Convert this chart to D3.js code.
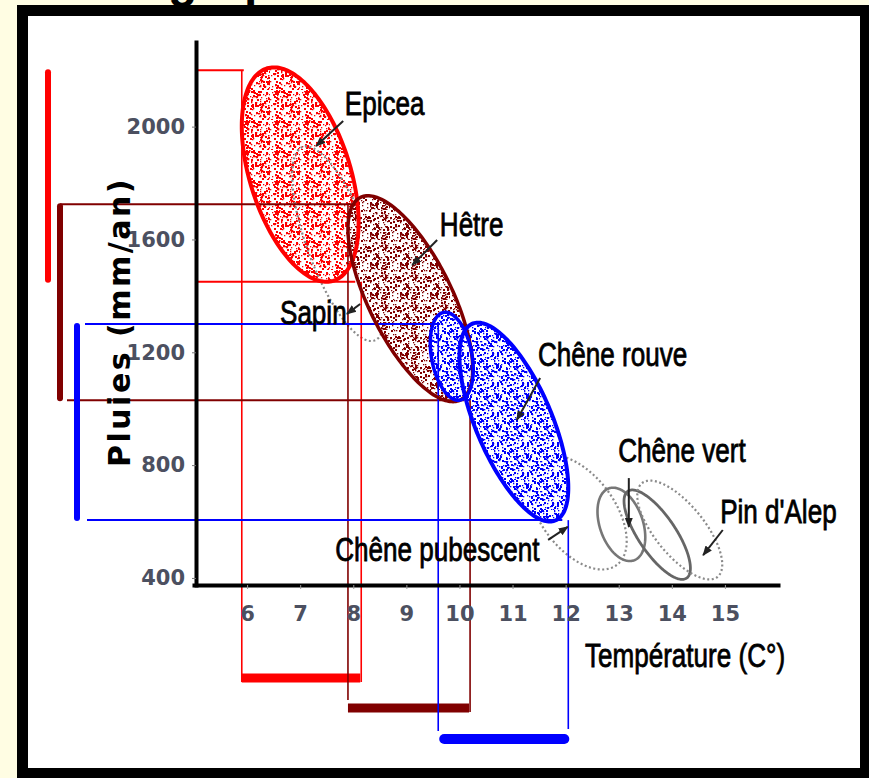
<!DOCTYPE html>
<html><head><meta charset="utf-8">
<script src="https://cdn.jsdelivr.net/npm/d3@7"></script>
<style>body{margin:0;background:#FFFDE3;} svg{display:block}</style>
</head><body>
<svg id="c" width="869" height="778"></svg>
<script>
// ---------------- DATA ----------------
// climatic ranges of the three highlighted species (reference lines & bars)
const species  = ["Epicea", "Hêtre", "Chêne rouve"];
const tempMin  = [5.9, 7.9, 9.6];
const tempMax  = [8.15, 10.2, 12.05];
const rainMin  = [1450, 1030, 605];
const rainMax  = [2200, 1725, 1300];

// ellipses (temperature / rainfall envelopes) of all species
const shapeNames = ["Epicea", "Sapin", "Hêtre", "Chêne pubescent", "Chêne rouve", "Chêne rouve", "Chêne vert", "Chêne vert", "Pin d'Alep"];
const shapeTMin  = [5.9, 6.85, 7.9, 11.3, 10.0, 9.45, 12.6, 13.1, 13.35];
const shapeTMax  = [8.1, 8.6, 10.25, 13.15, 12.05, 10.26, 13.5, 14.35, 14.95];
const shapeRMin  = [1450, 1240, 1025, 430, 600, 1030, 460, 395, 395];
const shapeRMax  = [2210, 1930, 1755, 835, 1305, 1342, 720, 712, 745];
const shapeCorr  = [0.45, 0.7, 0.68, 0.5, 0.66, 0.3, 0.35, 0.75, 0.7];

const xTicks = [6, 7, 8, 9, 10, 11, 12, 13, 14, 15];
const yTicks = [400, 800, 1200, 1600, 2000];

// annotation labels (text, temperature, rainfall) and leader lines
const labelText = ["Epicea", "Hêtre", "Sapin", "Chêne rouve", "Chêne vert", "Pin d'Alep", "Chêne pubescent"];
const labelT    = [7.84, 9.63, 6.62, 11.48, 12.99, 14.91, 7.66];
const labelR    = [2041, 1612, 1300, 1151, 811, 595, 460];
const leadT0    = [7.81, 9.58, 8.13, 11.52, 13.19, 14.96, 11.67];
const leadR0    = [2020, 1598, 1371, 1109, 754, 570, 535];
const leadT1    = [7.30, 9.11, 7.88, 11.08, 13.19, 14.59, 12.04];
const leadR1    = [1931, 1509, 1336, 960, 581, 481, 581];

// ---------------- DRAWING ----------------
const svg = d3.select("#c");
const x = d3.scaleLinear().domain([5, 16]).range([194, 778]);
const y = d3.scaleLinear().domain([375, 2300]).range([585, 42]);

const colors = ["#ff0000", "#800000", "#0000ff"];

// frame
svg.append("rect").attr("x", 17).attr("y", 5).attr("width", 870).attr("height", 790).attr("fill", "#000");
svg.append("rect").attr("x", 28).attr("y", 16).attr("width", 832).attr("height", 752).attr("fill", "#fff");

// cut-off title fragment (only descenders visible above the frame)
svg.append("text").attr("x", "168 205 244").attr("y", -3)
  .attr("font-family", "Liberation Sans, Arial").attr("font-weight", "bold").attr("font-size", 48)
  .attr("fill", "#000").text("g p");

const defs = svg.append("defs");
function makePattern(id, color, seed) {
  const p = defs.append("pattern").attr("id", id).attr("patternUnits", "userSpaceOnUse")
    .attr("width", 30).attr("height", 30);
  p.append("rect").attr("width", 30).attr("height", 30).attr("fill", "#fff");
  const rnd = d3.randomLcg(seed);
  for (let i = 0; i < 150; i++) {
    const s = rnd() < 0.55 ? 1.3 : 2;
    p.append("rect").attr("x", Math.floor(rnd() * 30)).attr("y", Math.floor(rnd() * 30))
      .attr("width", s).attr("height", s).attr("fill", color);
  }
}
makePattern("stRed", colors[0], 0.17);
makePattern("stBrown", colors[1], 0.53);
makePattern("stBlue", colors[2], 0.81);

const mk = defs.append("marker").attr("id", "arr").attr("viewBox", "0 0 10 10")
  .attr("refX", 9).attr("refY", 5).attr("markerWidth", 5).attr("markerHeight", 5)
  .attr("orient", "auto-start-reverse");
mk.append("path").attr("d", "M0,1L10,5L0,9z").attr("fill", "#222");

function ellipsePath(i) {
  const X0 = x(shapeTMin[i]), X1 = x(shapeTMax[i]);
  const Y0 = y(shapeRMax[i]), Y1 = y(shapeRMin[i]);
  const cx = (X0 + X1) / 2, cy = (Y0 + Y1) / 2, a = (X1 - X0) / 2, b = (Y1 - Y0) / 2;
  const phi = Math.acos(shapeCorr[i]);
  const pts = d3.range(0, 2 * Math.PI, Math.PI / 100)
    .map(t => [cx + a * Math.cos(t), cy + b * Math.cos(t - phi)]);
  return d3.line().curve(d3.curveLinearClosed)(pts);
}

const gShapes = svg.append("g");
function dotted(i) {
  gShapes.append("path").attr("d", ellipsePath(i)).attr("fill", "none")
    .attr("stroke", "#8a8a8a").attr("stroke-width", 2.2).attr("stroke-dasharray", "2,2.5");
}
// fills
gShapes.append("path").attr("d", ellipsePath(0)).attr("fill", "url(#stRed)");
dotted(1);
gShapes.append("path").attr("d", ellipsePath(2)).attr("fill", "url(#stBrown)");
dotted(3);
gShapes.append("path").attr("d", ellipsePath(4)).attr("fill", "url(#stBlue)");
gShapes.append("path").attr("d", ellipsePath(5)).attr("fill", "url(#stBlue)");

// reference lines
const gRef = svg.append("g").attr("fill", "none");
const bracketX = [48, 60, 77];
const hStart = [196, 60, 85];
const barY = [678, 708, 739];
species.forEach((s, i) => {
  const c = colors[i];
  gRef.append("line").attr("x1", hStart[i]).attr("x2", x(tempMin[i]) + (i === 1 ? 8 : 2))
    .attr("y1", y(rainMax[i])).attr("y2", y(rainMax[i])).attr("stroke", c).attr("stroke-width", 2);
  gRef.append("line").attr("x1", hStart[i] + (i === 1 ? 7 : 2)).attr("x2", x(tempMax[i]) - 6)
    .attr("y1", y(rainMin[i])).attr("y2", y(rainMin[i])).attr("stroke", c).attr("stroke-width", 2);
  gRef.append("line").attr("x1", x(tempMin[i])).attr("x2", x(tempMin[i]))
    .attr("y1", y(rainMax[i])).attr("y2", barY[i] + (i === 0 ? 4 : -8)).attr("stroke", c).attr("stroke-width", 1.6);
  gRef.append("line").attr("x1", x(tempMax[i])).attr("x2", x(tempMax[i]))
    .attr("y1", y(rainMin[i])).attr("y2", barY[i] + (i === 2 ? -10 : 4)).attr("stroke", c).attr("stroke-width", 1.6);
  gRef.append("line").attr("x1", bracketX[i]).attr("x2", bracketX[i])
    .attr("y1", y(rainMax[i]) + 2).attr("y2", y(rainMin[i]) - 2)
    .attr("stroke", c).attr("stroke-width", 6).attr("stroke-linecap", "round");
  gRef.append("line").attr("x1", x(tempMin[i]) + (i === 2 ? 6 : 0)).attr("x2", x(tempMax[i]) - (i === 2 ? 4 : 1))
    .attr("y1", barY[i]).attr("y2", barY[i])
    .attr("stroke", c).attr("stroke-width", i === 2 ? 10 : 9).attr("stroke-linecap", i === 2 ? "round" : "butt");
});

// outlines
const gOut = svg.append("g").attr("fill", "none");
gOut.append("path").attr("d", ellipsePath(0)).attr("stroke", colors[0]).attr("stroke-width", 4);
gOut.append("path").attr("d", ellipsePath(2)).attr("stroke", colors[1]).attr("stroke-width", 3.5);
gOut.append("path").attr("d", ellipsePath(4)).attr("stroke", colors[2]).attr("stroke-width", 4);
gOut.append("path").attr("d", ellipsePath(5)).attr("stroke", colors[2]).attr("stroke-width", 3.5);
gOut.append("path").attr("d", ellipsePath(6)).attr("stroke", "#777").attr("stroke-width", 2.6);
gOut.append("path").attr("d", ellipsePath(7)).attr("stroke", "#666").attr("stroke-width", 2.8);
gOut.append("path").attr("d", ellipsePath(8)).attr("stroke", "#8a8a8a").attr("stroke-width", 2.2).attr("stroke-dasharray", "2,2.5");

// axes
const tickFont = g => g.selectAll("text").attr("font-family", "DejaVu Sans, Verdana")
  .attr("font-weight", "bold").attr("font-size", 21).attr("fill", "#4c5060");
const ay = svg.append("g").attr("transform", "translate(196,0)")
  .call(d3.axisLeft(y).tickValues(yTicks).tickSize(4).tickSizeOuter(0).tickPadding(7).tickFormat(d3.format("d")))
  .call(tickFont);
ay.select(".domain").attr("stroke", "#000").attr("stroke-width", 4).attr("stroke-linecap", "square");
ay.selectAll(".tick line").attr("stroke", "#777");
const ax = svg.append("g").attr("transform", "translate(0,585)")
  .call(d3.axisBottom(x).tickValues(xTicks).tickSize(4).tickSizeOuter(0).tickPadding(17).tickFormat(d3.format("d")))
  .call(tickFont);
ax.select(".domain").attr("stroke", "#000").attr("stroke-width", 4).attr("stroke-linecap", "square");
ax.selectAll(".tick line").attr("stroke", "#999");

// axis titles
svg.append("text").attr("transform", "translate(130,322) rotate(-90)")
  .attr("text-anchor", "middle").attr("font-family", "DejaVu Sans, Verdana").attr("font-weight", "bold")
  .attr("font-size", 30).attr("letter-spacing", 2.5).attr("fill", "#000").text("Pluies (mm/an)");

function condensedText(str, px, py) {
  svg.append("g").attr("transform", `translate(${px},${py}) scale(0.79,1)`)
    .append("text").attr("font-family", "Liberation Sans, Arial").attr("font-size", 33)
    .attr("fill", "#000").attr("stroke", "#000").attr("stroke-width", 0.8).text(str);
}
condensedText("Température (C°)", 585, 667);

// labels & leaders
labelText.forEach((s, i) => {
  svg.append("line").attr("x1", x(leadT0[i])).attr("y1", y(leadR0[i]))
    .attr("x2", x(leadT1[i])).attr("y2", y(leadR1[i]))
    .attr("stroke", "#222").attr("stroke-width", 2).attr("marker-end", "url(#arr)");
  condensedText(s, x(labelT[i]), y(labelR[i]));
});
</script>
</body></html>
